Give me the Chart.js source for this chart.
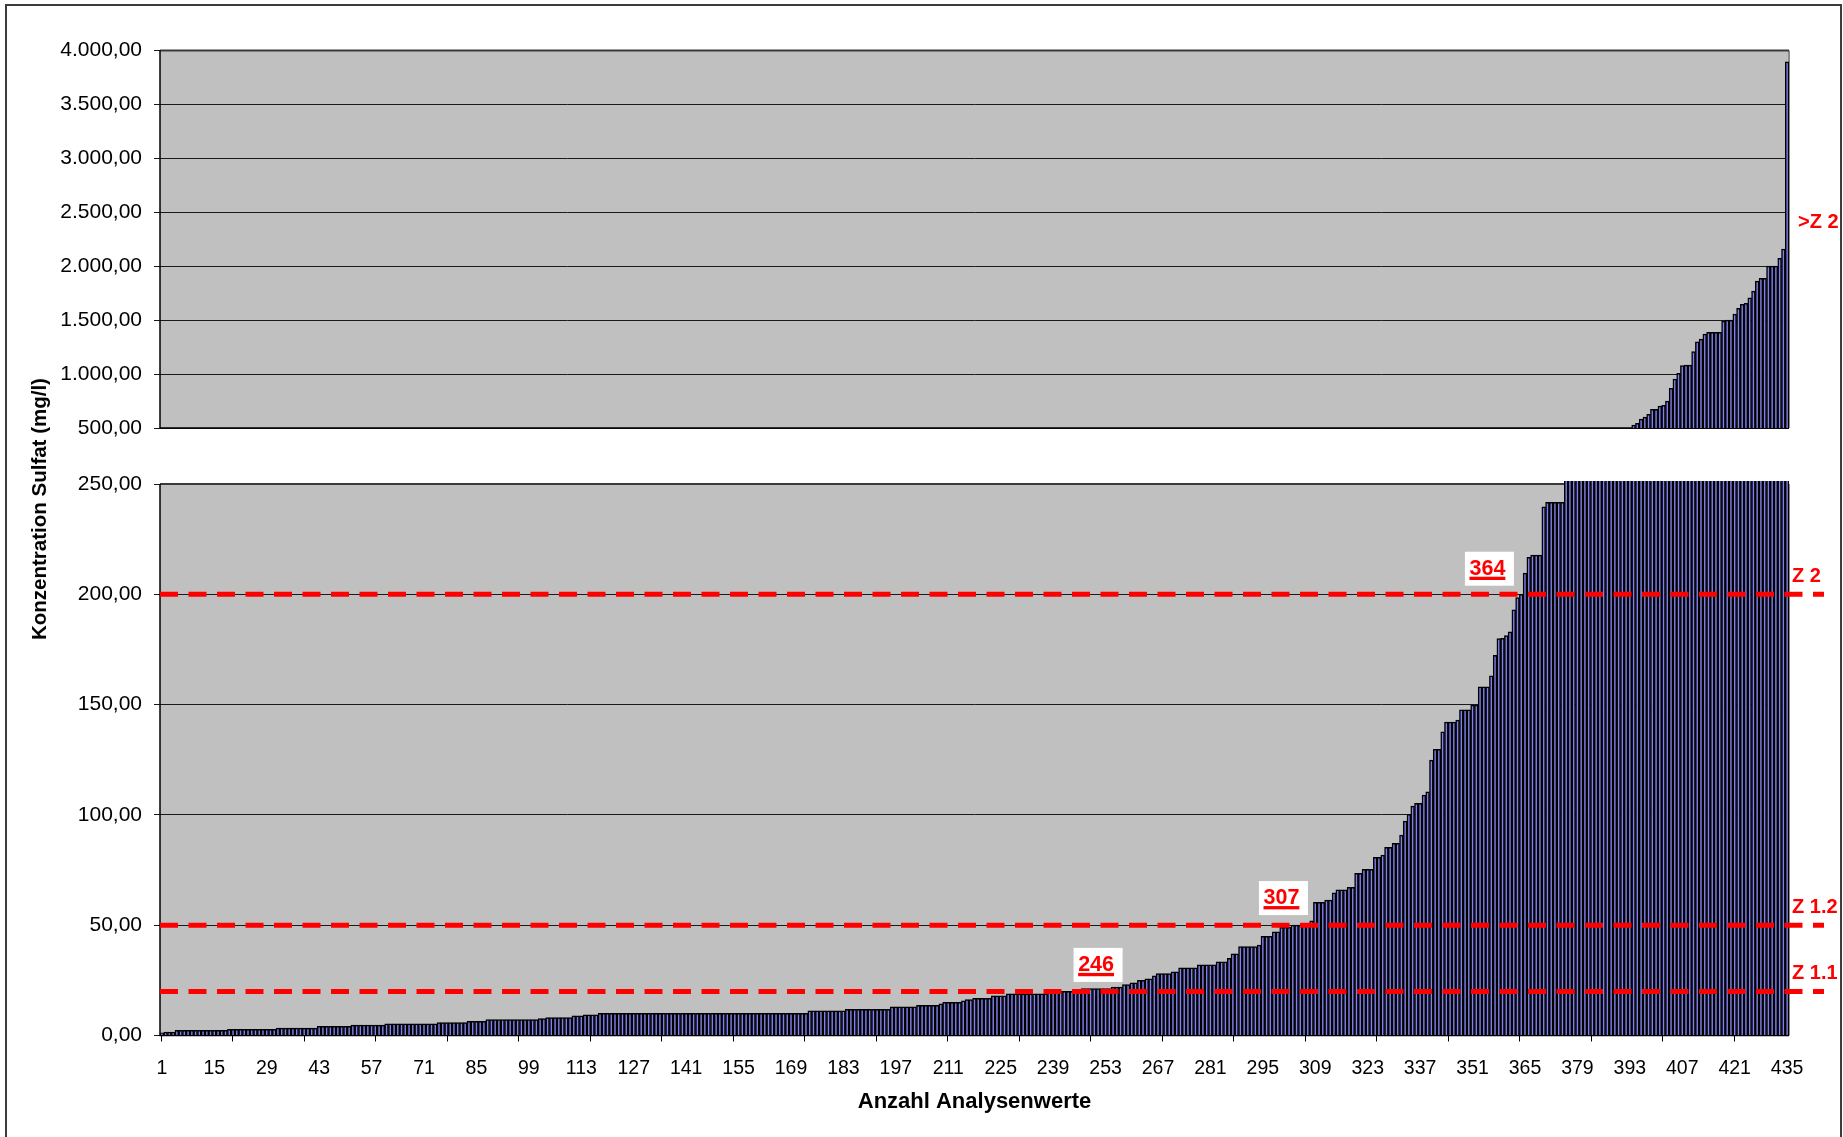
<!DOCTYPE html>
<html>
<head>
<meta charset="utf-8">
<title>Konzentration Sulfat</title>
<script src="https://cdn.jsdelivr.net/npm/chart.js@4.4.1/dist/chart.umd.min.js"></script>
<style>
    html, body { margin: 0; padding: 0; background: #ffffff; overflow: hidden; }
    #frame {
        position: absolute; left: 5px; top: 4px; width: 1837px; height: 1200px;
        border: 2px solid #3c3c3c; box-sizing: border-box;
    }
    .layer { position: absolute; left: 0; top: 0; width: 1843px; height: 1137px; }
    #yTitle {
        position: absolute; left: 39px; top: 509px;
        transform: translate(-50%, -50%) rotate(-90deg);
        font: bold 20.5px "Liberation Sans", Arial, sans-serif;
        white-space: nowrap; color: #000;
    }
</style>
</head>
<body>
<div id="frame"></div>
<div class="layer"><canvas id="topChart" width="1843" height="1137"></canvas></div>
<div class="layer"><canvas id="bottomChart" width="1843" height="1137"></canvas></div>
<div id="yTitle">Konzentration Sulfat (mg/l)</div>

<script>
// Sulfat-Analysen, aufsteigend sortiert (mg/l)

// Werte 1 - 117
const valuesA = [
    1.2, 1.6, 1.6, 1.6,
    2.3, 2.3, 2.3, 2.3, 2.3, 2.3, 2.3, 2.3, 2.3, 2.3, 2.3, 2.3, 2.3, 2.3,
    2.8, 2.8, 2.8, 2.8, 2.8, 2.8, 2.8, 2.8, 2.8, 2.8, 2.8, 2.8, 2.8,
    3.4, 3.4, 3.4, 3.4, 3.4, 3.4, 3.4, 3.4, 3.4, 3.4, 3.4,
    4.2, 4.2, 4.2, 4.2, 4.2, 4.2, 4.2, 4.2, 4.2,
    4.7, 4.7, 4.7, 4.7, 4.7, 4.7, 4.7, 4.7, 4.7,
    5.3, 5.3, 5.3, 5.3, 5.3, 5.3, 5.3, 5.3, 5.3, 5.3, 5.3, 5.3, 5.3, 5.3,
    5.9, 5.9, 5.9, 5.9, 5.9, 5.9, 5.9, 5.9,
    6.4, 6.4, 6.4, 6.4, 6.4,
    7.2, 7.2, 7.2, 7.2, 7.2, 7.2, 7.2, 7.2, 7.2, 7.2, 7.2, 7.2, 7.2, 7.2,
    7.7, 7.7,
    8.1, 8.1, 8.1, 8.1, 8.1, 8.1, 8.1,
    8.9, 8.9, 8.9,
    9.4, 9.4, 9.4, 9.4
];

// Werte 118 - 246 (bis Z 1.1)
const valuesB = [
    10, 10, 10, 10, 10, 10, 10, 10, 10, 10, 10, 10, 10, 10,
    10, 10, 10, 10, 10, 10, 10, 10, 10, 10, 10, 10, 10, 10,
    10, 10, 10, 10, 10, 10, 10, 10, 10, 10, 10, 10, 10, 10,
    10, 10, 10, 10, 10, 10, 10, 10, 10, 10, 10, 10, 10, 10,
    11.2, 11.2, 11.2, 11.2, 11.2, 11.2, 11.2, 11.2, 11.2, 11.2,
    11.9, 11.9, 11.9, 11.9, 11.9, 11.9, 11.9, 11.9, 11.9, 11.9, 11.9, 11.9,
    13, 13, 13, 13, 13, 13, 13,
    13.7, 13.7, 13.7, 13.7, 13.7, 13.7,
    14.4,
    15, 15, 15, 15, 15,
    15.7,
    16.3, 16.3,
    16.9, 16.9, 16.9, 16.9, 16.9,
    18, 18, 18, 18,
    18.9, 18.9, 18.9, 18.9, 18.9, 18.9, 18.9, 18.9, 18.9, 18.9, 18.9,
    19.5, 19.5,
    20, 20, 20, 20, 20, 20, 20
];

// Werte 247 - 307 (bis Z 1.2)
const valuesC = [
    21.3, 21.3, 21.3, 21.3, 21.3, 21.3, 21.3, 21.3,
    22, 22, 22,
    23.1, 23.1,
    23.9, 23.9,
    25, 25,
    25.7, 25.7,
    27,
    28.1, 28.1, 28.1, 28.1,
    28.9, 28.9,
    30.7, 30.7, 30.7, 30.7, 30.7,
    32, 32, 32, 32, 32,
    33.4, 33.4, 33.4,
    35,
    37, 37,
    40.3, 40.3, 40.3, 40.3, 40.3,
    41,
    45, 45, 45,
    47, 47,
    49, 49, 49,
    50, 50, 50, 50, 50
];

// Werte 308 - 364 (bis Z 2)
const valuesD = [
    52,
    60.4, 60.4, 60.4,
    61.4, 61.4,
    64.7,
    66, 66, 66,
    67.2, 67.2,
    73.5, 73.5,
    75.3, 75.3, 75.3,
    80.8, 80.8,
    81.8,
    85.3, 85.3,
    87.1, 87.1,
    90.9, 97.2, 100.3, 104,
    105.2, 105.2,
    109, 110.5, 124.9,
    129.7, 129.7,
    137.7,
    142.1, 142.1, 142.1,
    143,
    147.6, 147.6, 147.6,
    149.8, 149.8,
    158, 158, 158,
    163, 172.3, 179.9, 180, 181.3, 183, 193, 198.5, 200
];

// Werte 365 - 435 (> Z 2)
const valuesE = [
    209.6, 216.8, 217.8, 217.8, 217.8, 239.7,
    241.7, 241.7, 241.7, 241.7, 241.7,
    255, 262, 270, 285, 295, 305, 318, 330, 345,
    360, 375, 390, 405, 420, 440, 455, 470, 490,
    528, 543, 583, 602, 627, 673, 673, 704, 710, 750,
    868, 954, 1007, 1078, 1084, 1084, 1208, 1300, 1325, 1371,
    1387, 1387, 1387, 1387, 1492, 1501, 1501, 1557, 1609, 1647,
    1656, 1708, 1770, 1863, 1888, 1888, 2002, 2002, 2002, 2073,
    2160, 3896
];

const sulfat = [].concat(valuesA, valuesB, valuesC, valuesD, valuesE);
const categories = sulfat.map((v, i) => String(i + 1));

const tickLabels = ['1', '15', '29', '43', '57', '71', '85', '99', '113', '127', '141',
    '155', '169', '183', '197', '211', '225', '239', '253', '267', '281', '295',
    '309', '323', '337', '351', '365', '379', '393', '407', '421', '435'];

// Zuordnungswerte (LAGA)
const limitValues = [200, 50, 20];
const limitNames = ['Z 2', 'Z 1.2', 'Z 1.1'];
const countLabels = ['364', '307', '246'];

// where the count boxes sit (category index, value)
const countAnchors = [
    { idx: 354.5, val: 211.6 },
    { idx: 299.5, val: 62.3 },
    { idx: 250, val: 32 }
];

const FONT = '"Liberation Sans", Arial, sans-serif';
Chart.defaults.font.family = FONT;
Chart.defaults.color = '#000';

// 4000 -> "4.000,00"
function formatDe(v) {
    const s = String(Math.round(v));
    return s.replace(/\B(?=(\d{3})+(?!\d))/g, '.') + ',00';
}

// grey plot area and frame
const plotFrame = {
    id: 'plotFrame',
    beforeDraw(chart) {
        const a = chart.chartArea;
        const ctx = chart.ctx;
        ctx.save();
        ctx.fillStyle = '#c0c0c0';
        ctx.fillRect(a.left, a.top, a.right - a.left, a.bottom - a.top);
        ctx.restore();
    },
    beforeDatasetsDraw(chart) {
        const a = chart.chartArea;
        const ctx = chart.ctx;
        ctx.save();
        ctx.lineWidth = 2;
        ctx.strokeStyle = '#8a8a8a';
        ctx.beginPath();
        ctx.moveTo(a.right, a.top);
        ctx.lineTo(a.right, a.bottom);
        ctx.stroke();
        ctx.strokeStyle = '#3a3a3a';
        ctx.beginPath();
        ctx.moveTo(a.left, a.top);
        ctx.lineTo(a.right, a.top);
        ctx.stroke();
        ctx.strokeStyle = '#000';
        ctx.lineWidth = 1.5;
        ctx.beginPath();
        ctx.moveTo(a.left, a.top);
        ctx.lineTo(a.left, a.bottom);
        ctx.lineTo(a.right, a.bottom);
        ctx.stroke();
        ctx.restore();
    }
};

// red dashed limits, their names and the count boxes
const limitLines = {
    id: 'limitLines',
    afterDatasetsDraw(chart) {
        const ctx = chart.ctx;
        const a = chart.chartArea;
        const xs = chart.scales.x;
        const ys = chart.scales.y;
        ctx.save();
        limitValues.forEach((v, i) => {
            const py = ys.getPixelForValue(v);
            ctx.strokeStyle = '#ff0000';
            ctx.lineWidth = 5;
            ctx.setLineDash([18, 10.5]);
            ctx.beginPath();
            ctx.moveTo(a.left, py);
            ctx.lineTo(a.right + 35, py);
            ctx.stroke();
            ctx.setLineDash([]);
            ctx.fillStyle = '#ff0000';
            ctx.font = 'bold 20px ' + FONT;
            ctx.textAlign = 'left';
            ctx.textBaseline = 'alphabetic';
            ctx.fillText(limitNames[i], a.right + 3, py - 12);
        });

        countLabels.forEach((t, i) => {
            const cx = xs.getPixelForValue(countAnchors[i].idx);
            const cy = ys.getPixelForValue(countAnchors[i].val);
            const top = cy - 17;
            ctx.fillStyle = '#ffffff';
            ctx.fillRect(cx - 24.5, top, 49, 34);
            ctx.font = 'bold 21.5px ' + FONT;
            ctx.textAlign = 'center';
            ctx.textBaseline = 'alphabetic';
            ctx.fillStyle = '#ff0000';
            ctx.fillText(t, cx - 2, top + 23.3);
            const w = ctx.measureText(t).width;
            ctx.fillRect(cx - 2 - w / 2, top + 25, w, 3.3);
        });
        ctx.restore();
    }
};

// ">Z 2" next to the upper panel
const upperNote = {
    id: 'upperNote',
    afterDatasetsDraw(chart) {
        const ctx = chart.ctx;
        const a = chart.chartArea;
        const py = chart.scales.y.getPixelForValue(2350);
        ctx.save();
        ctx.fillStyle = '#ff0000';
        ctx.font = 'bold 20px ' + FONT;
        ctx.textAlign = 'left';
        ctx.textBaseline = 'alphabetic';
        ctx.fillText('>Z 2', a.right + 9, py);
        ctx.restore();
    }
};

function barDataset() {
    return {
        label: 'Sulfat',
        data: sulfat,
        xAxisID: 'x',
        yAxisID: 'y',
        backgroundColor: '#8080ee',
        borderColor: '#000000',
        borderWidth: 1.5,
        barPercentage: 1,
        categoryPercentage: 1,
        clip: { left: 0, right: 0, top: 3, bottom: 0 }
    };
}

// Upper panel: 500 - 4000
new Chart(document.getElementById('topChart'), {
    type: 'bar',
    data: { labels: categories, datasets: [barDataset()] },
    options: {
        responsive: false,
        maintainAspectRatio: false,
        devicePixelRatio: 1,
        animation: false,
        layout: { padding: { top: 50.5, right: 54, bottom: 709, left: 0 } },
        plugins: { legend: { display: false }, tooltip: { enabled: false } },
        scales: {
            x: { display: false },
            y: {
                min: 500,
                max: 4000,
                afterFit: function(scale) { scale.width = 160; },
                ticks: {
                    stepSize: 500,
                    padding: 12,
                    font: { size: 21 },
                    callback: function(value) { return formatDe(value); }
                },
                grid: { color: '#1a1a1a', lineWidth: 1, tickLength: 6 },
                border: { display: false }
            }
        }
    },
    plugins: [plotFrame, upperNote]
});

// Lower panel: 0 - 250
new Chart(document.getElementById('bottomChart'), {
    type: 'bar',
    data: { labels: categories, datasets: [barDataset()] },
    options: {
        responsive: false,
        maintainAspectRatio: false,
        devicePixelRatio: 1,
        animation: false,
        layout: { padding: { top: 484, right: 54, bottom: 15.5, left: 0 } },
        plugins: { legend: { display: false }, tooltip: { enabled: false } },
        scales: {
            x: {
                position: 'bottom',
                weight: 1,
                afterFit: function(scale) { scale.height = 80; },
                grid: { display: false, drawTicks: false },
                border: { display: false },
                ticks: {
                    autoSkip: false,
                    maxRotation: 0,
                    minRotation: 0,
                    padding: 15,
                    font: { size: 19.5 },
                    callback: function(value) {
                        const lab = this.getLabelForValue(value);
                        return tickLabels.includes(lab) ? lab : '';
                    }
                },
                title: {
                    display: true,
                    text: 'Anzahl Analysenwerte',
                    font: { size: 22, weight: 'bold' },
                    padding: { top: 0, bottom: 6 }
                }
            },
            // tick marks every 20 values, between the bars
            xMarks: {
                type: 'linear',
                position: 'bottom',
                weight: 0,
                min: 0,
                max: 435,
                afterFit: function(scale) { scale.height = 6; },
                ticks: { stepSize: 20, display: false, includeBounds: false },
                grid: { drawOnChartArea: false, drawTicks: true, tickLength: 6, color: '#000', lineWidth: 1 },
                border: { display: false }
            },
            y: {
                min: 0,
                max: 250,
                afterFit: function(scale) { scale.width = 160; },
                ticks: {
                    stepSize: 50,
                    padding: 12,
                    font: { size: 21 },
                    callback: function(value) { return formatDe(value); }
                },
                grid: { color: '#1a1a1a', lineWidth: 1, tickLength: 6 },
                border: { display: false }
            }
        }
    },
    plugins: [plotFrame, limitLines]
});

console.log('Sulfat chart drawn');
</script>
</body>
</html>
